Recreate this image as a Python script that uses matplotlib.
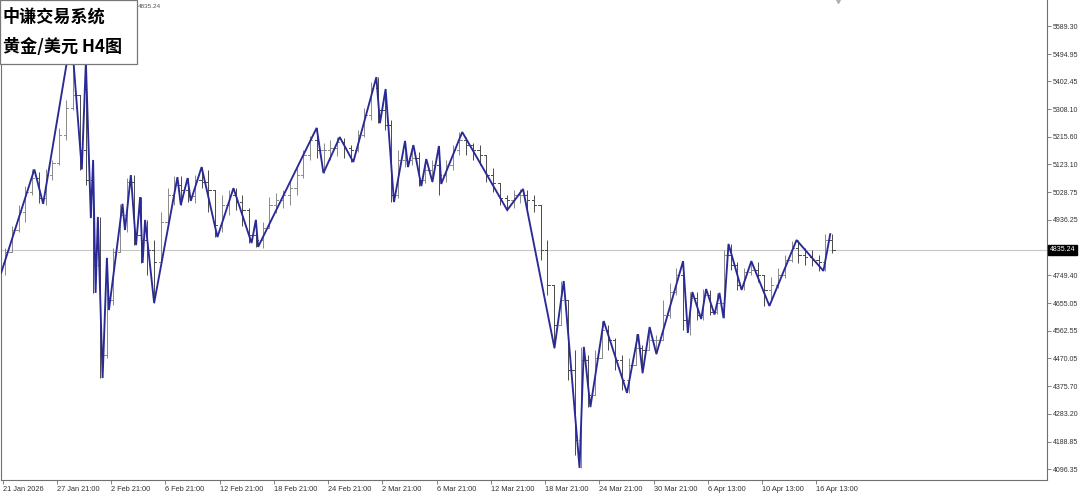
import matplotlib
matplotlib.use('Agg')
import matplotlib.pyplot as plt
import matplotlib.transforms as mtransforms
from matplotlib.patches import Rectangle

plt.rcParams['font.family'] = ['Noto Sans CJK SC', 'DejaVu Sans']

# ---------------- data ----------------
title_lines = ['中谦交易系统', '黄金/美元 H4图']
current_price = 4835.24

# ZigZag vertices (bar index in H4 bars, price)
zz_idx = [-0.7, 14.0, 17.9, 30.4, 35.0, 36.8, 39.0, 40.0, 41.1, 42.1, 44.2, 46.1, 47.0,
          53.0, 54.1, 56.7, 59.0, 60.8, 61.9, 63.0, 67.0, 77.3, 78.8, 81.8, 83.2, 88.0,
          95.0, 102.1, 110.1, 112.0, 113.0, 138.9, 141.9, 149.1, 155.1, 165.3, 166.9,
          169.4, 173.1, 178.0, 179.3, 181.7, 185.2, 187.4, 190.1, 193.0, 194.0, 203.3,
          223.2, 230.2, 244.1, 248.2, 255.2, 257.1, 260.0, 265.9, 276.2, 281.1, 283.1,
          286.2, 289.2, 301.0, 303.1, 305.1, 309.0, 311.2, 314.9, 317.1, 318.9, 321.1,
          326.9, 331.2, 339.2, 351.2, 363.1, 366.1]
zz_price = [4757, 5106, 4990, 5559, 5106, 5468, 4942, 5138, 4690, 4946, 4403, 4808, 4632,
            4990, 4902, 5087, 4851, 5013, 4791, 4936, 4656, 5080, 4986, 5077, 5000, 5114,
            4878, 5043, 4858, 4936, 4845, 5246, 5094, 5215, 5131, 5417, 5262,
            5377, 4996, 5202, 5114, 5188, 5050, 5141, 5064, 5185, 5057, 5232,
            4969, 5040, 4504, 4730, 4100, 4508, 4305, 4595, 4353, 4551, 4420,
            4575, 4484, 4797, 4555, 4693, 4602, 4703, 4617, 4690, 4605, 4855,
            4700, 4797, 4646, 4868, 4764, 4888]

# Price bars (each spans 3 H4 bars)
bar_high = [4841, 4915, 4986, 5050, 5107, 5097, 5107, 5138, 5246, 5340,
            5559, 5353, 5468, 5138, 4946, 4808, 4841, 4990, 5077, 5087,
            5013, 4936, 4868, 4963, 5043, 5084, 5084, 5077, 5087, 5114,
            5104, 5003, 5020, 5037, 5043, 5020, 4976, 4936, 4929, 5013,
            5027, 5037, 5070, 5111, 5171, 5219, 5246, 5195, 5205, 5215,
            5212, 5188, 5239, 5313, 5401, 5417, 5377, 5273, 5171, 5202,
            5188, 5165, 5141, 5138, 5185, 5138, 5188, 5232, 5215, 5195,
            5188, 5128, 5111, 5054, 5020, 5037, 5040, 5037, 5020, 4986,
            4868, 4717, 4730, 4666, 4498, 4508, 4481, 4498, 4595, 4582,
            4538, 4481, 4471, 4551, 4514, 4575, 4548, 4666, 4723, 4774,
            4797, 4693, 4693, 4703, 4700, 4690, 4835, 4855, 4794, 4774,
            4797, 4794, 4750, 4743, 4774, 4818, 4865, 4868, 4841, 4835,
            4818, 4888, 4888]
bar_low = [4750, 4828, 4895, 4929, 5020, 4993, 4986, 5070, 5121, 5205,
           5306, 5104, 5054, 4690, 4403, 4471, 4649, 4835, 4895, 4851,
           4791, 4750, 4656, 4835, 4919, 4986, 4986, 4996, 4993, 5043,
           4963, 4878, 4895, 4952, 4969, 4915, 4858, 4845, 4841, 4919,
           4959, 4976, 4986, 5020, 5077, 5138, 5144, 5094, 5138, 5151,
           5144, 5131, 5165, 5215, 5273, 5262, 5239, 4996, 5010, 5114,
           5121, 5050, 5060, 5064, 5020, 5064, 5104, 5155, 5155, 5138,
           5121, 5064, 5030, 4986, 4969, 4976, 4993, 4969, 4963, 4801,
           4683, 4504, 4599, 4396, 4144, 4100, 4305, 4346, 4491, 4498,
           4430, 4363, 4353, 4481, 4420, 4514, 4484, 4531, 4605, 4683,
           4565, 4548, 4599, 4599, 4615, 4619, 4605, 4767, 4700, 4700,
           4750, 4727, 4646, 4666, 4706, 4740, 4794, 4791, 4784, 4781,
           4764, 4764, 4824]
bar_close = [4828, 4902, 4963, 5030, 5077, 5010, 5087, 5128, 5222, 5313,
             5357, 5171, 5070, 4784, 4481, 4666, 4828, 4952, 5064, 4885,
             4868, 4835, 4794, 4929, 5020, 5054, 5037, 5016, 5070, 5064,
             5037, 4919, 4986, 5020, 4996, 4969, 4885, 4868, 4909, 4986,
             5003, 5020, 5043, 5087, 5155, 5205, 5171, 5171, 5178, 5198,
             5178, 5171, 5222, 5289, 5380, 5306, 5256, 5020, 5138, 5138,
             5144, 5070, 5104, 5121, 5087, 5121, 5171, 5205, 5188, 5171,
             5155, 5087, 5060, 5010, 5003, 5020, 5020, 5003, 4986, 4835,
             4717, 4582, 4666, 4430, 4194, 4464, 4346, 4471, 4565, 4531,
             4464, 4396, 4447, 4504, 4498, 4531, 4531, 4615, 4693, 4750,
             4599, 4673, 4615, 4683, 4626, 4656, 4818, 4784, 4717, 4760,
             4767, 4750, 4700, 4717, 4750, 4801, 4841, 4818, 4811, 4801,
             4794, 4868, 4835.24]
first_open = 4790

y_tick_labels = ['5589.30', '5494.95', '5402.45', '5308.10', '5215.60', '5123.10',
                 '5028.75', '4936.25', '4749.40', '4655.05', '4562.55', '4470.05',
                 '4375.70', '4283.20', '4188.85', '4096.35']
x_tick_labels = ['21 Jan 2026', '27 Jan 21:00', '2 Feb 21:00', '6 Feb 21:00',
                 '12 Feb 21:00', '18 Feb 21:00', '24 Feb 21:00', '2 Mar 21:00',
                 '6 Mar 21:00', '12 Mar 21:00', '18 Mar 21:00', '24 Mar 21:00',
                 '30 Mar 21:00', '6 Apr 13:00', '10 Apr 13:00', '16 Apr 13:00']
bars_per_label = 24
bars_per_candle = 3

AXIS_FONT = 'Liberation Sans'

# ---------------- figure ----------------
W, H = 1080, 494
fig = plt.figure(figsize=(W / 100, H / 100), dpi=100)
ax = fig.add_axes([1 / W, 14 / H, 1046 / W, 480 / H])
ax.set_xlim(-0.75, 462.0)
ax.set_ylim(4059.4, 5677.0)

# current price line
ax.axhline(current_price, color='#c8c8c8', lw=0.8, zorder=1)

# OHLC bars
opens = [first_open] + bar_close[:-1]
for j, (o, h, l, c) in enumerate(zip(opens, bar_high, bar_low, bar_close)):
    x = bars_per_candle * j + 1
    col = '#8a8a8a' if c >= o else '#4a4a4a'
    lo = min(l, o, c)
    hi = max(h, o, c)
    ax.plot([x, x], [lo, hi], color=col, lw=0.7, zorder=2, solid_capstyle='butt')
    ax.plot([x - 1.0, x], [o, o], color=col, lw=0.7, zorder=2)
    ax.plot([x, x + 1.0], [c, c], color=col, lw=0.7, zorder=2)

# ZigZag
ax.plot(zz_idx, zz_price, color='#2a2a96', lw=1.35, zorder=3, solid_joinstyle='miter')

# axes styling
ax.spines['top'].set_visible(False)
for s in ['left', 'right', 'bottom']:
    ax.spines[s].set_color('#707070')
    ax.spines[s].set_linewidth(0.8)

y_ticks = [float(t) for t in y_tick_labels]
ax.yaxis.tick_right()
ax.set_yticks(y_ticks)
ax.set_yticklabels(y_tick_labels)
ax.tick_params(axis='y', which='both', left=False, right=True, labelleft=False,
               labelright=True, length=3, width=0.6, pad=1.2, labelsize=5.0,
               colors='#707070', labelcolor='#333333')
for lab in ax.get_yticklabels():
    lab.set_fontfamily(AXIS_FONT)

x_ticks = [bars_per_label * k for k in range(len(x_tick_labels))]
ax.set_xticks(x_ticks)
ax.set_xticklabels(x_tick_labels, ha='left')
ax.tick_params(axis='x', length=3, width=0.6, pad=1.5, labelsize=5.3,
               colors='#707070', labelcolor='#333333')
for lab in ax.get_xticklabels():
    lab.set_fontfamily(AXIS_FONT)

# current price tag on the price axis
trans = mtransforms.blended_transform_factory(ax.transAxes, ax.transData)
ax.text(1.003, current_price, f'{current_price:.2f}', transform=trans, ha='left',
        va='center', color='white', fontsize=5.0, family=AXIS_FONT,
        bbox=dict(facecolor='black', edgecolor='black', pad=1.2), zorder=12,
        clip_on=False)

# chart-shift marker
ax.plot([369.6], [5677.0], marker='v', color='#b0b0b0', ms=4, clip_on=False, zorder=4)

# small top label
fig.text(138 / W, 1 - 7 / H, f'{current_price:.2f}', fontsize=4.6, color='#555555',
         va='center', ha='left', family=AXIS_FONT)

# title box
box = Rectangle((0, 1 - 64 / H), 137 / W, 64 / H, transform=fig.transFigure,
                facecolor='white', edgecolor='#777777', lw=0.9, zorder=10)
fig.patches.append(box)
fig.text(3 / W, 1 - 17 / H, title_lines[0], fontsize=12.3, fontweight='bold',
         color='black', va='center', ha='left', zorder=11)
fig.text(3 / W, 1 - 47 / H, title_lines[1], fontsize=12.3, fontweight='bold',
         color='black', va='center', ha='left', zorder=11)

fig.savefig('out.png', dpi=100)
